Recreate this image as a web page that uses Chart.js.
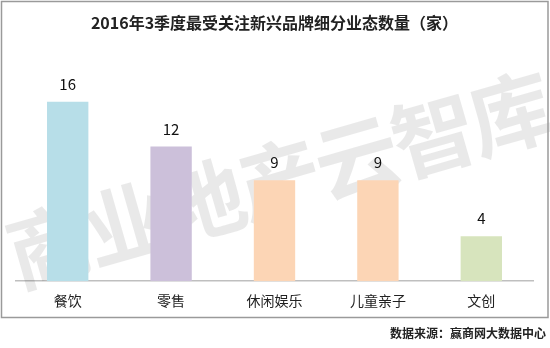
<!DOCTYPE html>
<html>
<head>
<meta charset="utf-8">
<script src="https://cdn.jsdelivr.net/npm/chart.js@4/dist/chart.umd.min.js"></script>
<style>
  html, body { margin: 0; padding: 0; background: #fff; }
  #wrap { width: 550px; height: 348px; position: relative; }
</style>
</head>
<body>
<div id="wrap"><canvas id="bar_category"></canvas></div>
<script>
// data
var categories = ['餐饮', '零售', '休闲娱乐', '儿童亲子', '文创'];
var counts = [16, 12, 9, 9, 4];
var barColors = ['#b7dee8', '#ccc0da', '#fcd5b5', '#fcd5b5', '#d7e4bd'];
var titleText = '2016年3季度最受关注新兴品牌细分业态数量（家）';
var sourceText = '数据来源：赢商网大数据中心';
var watermark = '商业地产云智库';

var cjk = "'Noto Sans CJK SC', 'Noto Sans', sans-serif";

// watermark + frame, drawn under the bars
var backdrop = {
    id: 'backdrop',
    beforeDatasetsDraw: function (chart) {
        var ctx = chart.ctx;
        ctx.save();
        ctx.translate(278, 180);
        ctx.rotate(-16 * Math.PI / 180);
        ctx.font = 'bold 84px ' + cjk;
        ctx.fillStyle = 'rgba(0,0,0,0.085)';
        ctx.textAlign = 'center';
        ctx.textBaseline = 'middle';
        if (ctx.letterSpacing !== undefined) ctx.letterSpacing = '-4px';
        ctx.fillText(watermark, 0, 0);
        ctx.restore();
    },
    afterDraw: function (chart) {
        var ctx = chart.ctx;
        ctx.save();
        ctx.strokeStyle = '#9a9a9a';
        ctx.lineWidth = 1.5;
        ctx.strokeRect(1.5, 1.5, 546.5, 316);
        ctx.font = 'bold 12px ' + cjk;
        ctx.fillStyle = '#222';
        ctx.textAlign = 'right';
        ctx.textBaseline = 'middle';
        ctx.fillText(sourceText, 546, 333);
        ctx.restore();
    }
};

// value on top of each bar
var valueLabels = {
    id: 'valueLabels',
    afterDatasetsDraw: function (chart) {
        var ctx = chart.ctx;
        var meta = chart.getDatasetMeta(0);
        ctx.save();
        ctx.font = '15px ' + cjk;
        ctx.fillStyle = '#111';
        ctx.textAlign = 'center';
        ctx.textBaseline = 'alphabetic';
        meta.data.forEach(function (bar, i) {
            ctx.fillText(counts[i], bar.x, bar.y - 12);
        });
        ctx.restore();
    }
};

new Chart(document.getElementById('bar_category').getContext('2d'), {
    type: 'bar',
    data: {
        labels: categories,
        datasets: [{
            label: '数量',
            data: counts,
            backgroundColor: barColors,
            categoryPercentage: 1,
            barPercentage: 0.4
        }]
    },
    options: {
        responsive: true,
        maintainAspectRatio: false,
        animation: false,
        layout: { padding: { left: 16, right: 17, top: 0, bottom: 28 } },
        plugins: {
            legend: { display: false },
            tooltip: { enabled: false },
            title: {
                display: true,
                text: titleText,
                color: '#222',
                font: { family: cjk, size: 16, weight: 'bold' },
                padding: { top: 13, bottom: 47 }
            }
        },
        scales: {
            x: {
                grid: { display: false, drawTicks: false },
                border: { display: true, color: '#bfbfbf', width: 1.5 },
                ticks: { color: '#222', font: { family: cjk, size: 14 }, padding: 11 }
            },
            y: {
                display: false,
                min: 0,
                max: 18
            }
        }
    },
    plugins: [backdrop, valueLabels]
});
</script>
</body>
</html>
